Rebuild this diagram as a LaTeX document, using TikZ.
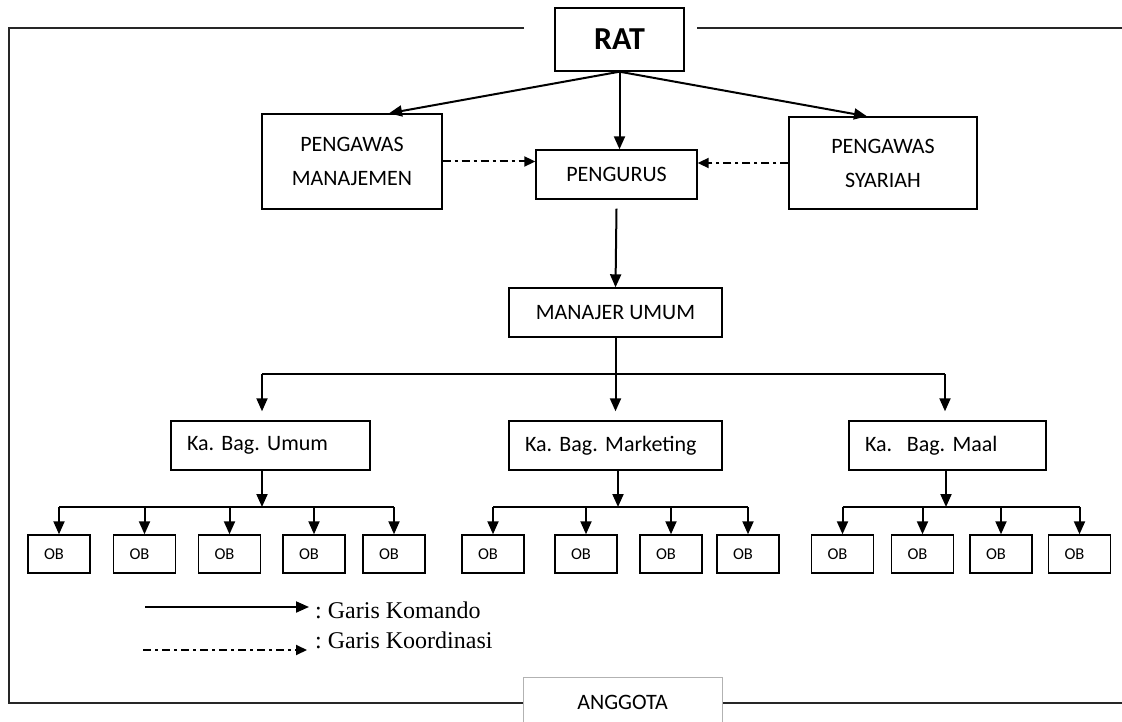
\documentclass[tikz,border=0pt]{standalone}
\usepackage{fontspec}
\setmainfont{Carlito}
\newfontfamily\tnr{Liberation Serif}
\usetikzlibrary{arrows.meta,calc}
\frenchspacing
\begin{document}
\begin{tikzpicture}[x=1pt,y=-1pt,
 box/.style={draw, line width=1.4pt, inner sep=0pt, align=center, font=\fontsize{22}{34}\selectfont},
 obbox/.style={draw, line width=1.4pt, minimum width=62pt, minimum height=38pt, inner sep=0pt, font=\fontsize{16.5}{18}\selectfont},
 kabox/.style={draw, line width=1.4pt, minimum height=49pt, inner xsep=16pt, inner ysep=0pt, align=left, font=\fontsize{22}{26}\selectfont},
 cmd/.style={line width=2pt, -{Triangle[length=13pt,width=11pt]}},
 crd/.style={line width=2pt, dash pattern=on 8pt off 4pt on 3pt off 4pt, -{Triangle[length=11pt,width=10pt]}},
 bar/.style={line width=2pt},
 frame/.style={line width=1.3pt, black!85}]
\useasboundingbox (0,0) rectangle (1122,722);

% frame
\draw[frame] (524,28) -- (9,28) -- (9,703) -- (523,703);
\draw[frame] (697,28) -- (1122,28);
\draw[frame] (722,703) -- (1122,703);

% top nodes
\node[box, minimum width=129pt, minimum height=63pt, font=\bfseries\fontsize{32}{36}\selectfont] (rat) at (619.5,39.5) {RAT};
\node[box, minimum width=180pt, minimum height=95pt] (pm) at (352,161.5) {PENGAWAS\\MANAJEMEN};
\node[box, minimum width=161pt, minimum height=49pt] (pg) at (616.5,174.5) {PENGURUS};
\node[box, minimum width=188pt, minimum height=92pt] (ps) at (883,163) {PENGAWAS\\SYARIAH};
\node[box, minimum width=213pt, minimum height=49pt] (mu) at (615.5,312.5) {MANAJER UMUM};

% department heads
\node[kabox, text width=167pt] (ku) at (270.5,445.5) {Ka. Bag. Umum};
\node[kabox, text width=181pt] (km) at (615.5,445.5) {Ka. Bag. Marketing};
\node[kabox, text width=165pt] (kl) at (947.5,445.5) {Ka.\ \ Bag. Maal};

% OB boxes
\foreach \n/\x in {u1/59,u2/144.5,u3/229.5,u4/314,u5/394,
                   m1/493,m2/586,m3/671,m4/748,
                   l1/842.5,l2/922.5,l3/1001,l4/1079.5}{
  \node[obbox] (\n) at (\x,554) {OB\hspace*{10pt}};
}

% command lines from RAT
\draw[cmd] (rat.south) -- ($(pm.north)+(37,0)$);
\draw[cmd] (rat.south) -- ($(ps.north)+(-16,0)$);
\draw[cmd] (rat.south) -- (rat.south |- pg.north);
% coordination lines
\draw[crd] (pm.east) -- (pm.east -| pg.west);
\draw[crd] (ps.west) -- (ps.west -| pg.east);
% pengurus -> manajer
\draw[cmd] ($(pg.south)+(0,9)$) -- (mu.north);

% manajer -> heads
\coordinate (bl) at (262,374);
\coordinate (br) at (945,374);
\draw[bar] (bl) -- (br);
\draw[bar] (mu.south) -- (mu.south |- bl);
\draw[cmd] (bl) -- ($(bl |- ku.north)+(0,-9)$);
\draw[cmd] (mu.south |- bl) -- ($(mu.south |- km.north)+(0,-9)$);
\draw[cmd] (br) -- ($(br |- kl.north)+(0,-9)$);

% heads -> OB
\coordinate (ub) at (262,507);
\coordinate (mb) at (618,507);
\coordinate (lb) at (946,507);
\draw[cmd] (ub |- ku.south) -- (ub);
\draw[cmd] (mb |- km.south) -- (mb);
\draw[cmd] (lb |- kl.south) -- (lb);
\draw[bar] (u1.north |- ub) -- (u5.north |- ub);
\draw[bar] (m1.north |- mb) -- (m4.north |- mb);
\draw[bar] (l1.north |- lb) -- (l4.north |- lb);
\foreach \n in {u1,u2,u3,u4,u5}{\draw[cmd] (\n.north |- ub) -- (\n.north);}
\foreach \n in {m1,m2,m3,m4}{\draw[cmd] (\n.north |- mb) -- (\n.north);}
\foreach \n in {l1,l2,l3,l4}{\draw[cmd] (\n.north |- lb) -- (\n.north);}

% legend
\coordinate (la1) at (145,607);
\coordinate (lb1) at (309,607);
\draw[cmd] (la1) -- (lb1);
\node[anchor=base west, inner sep=0pt, font=\tnr\fontsize{24}{28}\selectfont] (t1) at (315,618) {: Garis Komando};
\coordinate (la2) at (143,650);
\coordinate (lb2) at (307,650);
\draw[crd] (la2) -- (lb2);
\node[anchor=base west, inner sep=0pt, font=\tnr\fontsize{24}{28}\selectfont] (t2) at (315,648) {: Garis Koordinasi};

% anggota
\node[inner sep=0pt, font=\fontsize{22}{26}\selectfont] (ang) at (622.5,702) {ANGGOTA};
\draw[gray!60, line width=1pt] (523,722) -- (523,677) -- (722,677) -- (722,722);
\end{tikzpicture}
\end{document}
